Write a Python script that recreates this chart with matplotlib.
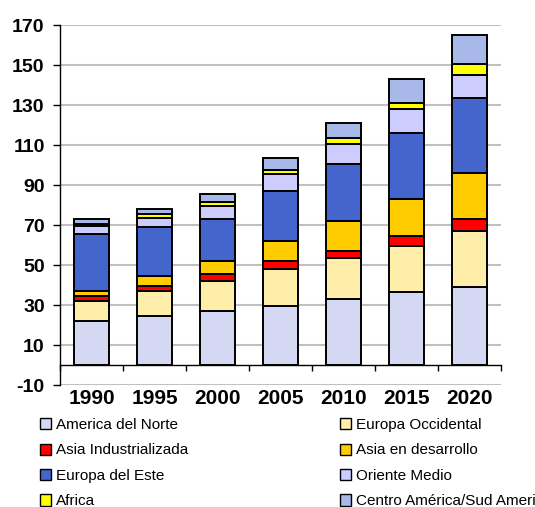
import matplotlib
matplotlib.use("Agg")
import matplotlib.pyplot as plt
import numpy as np
from matplotlib.patches import Patch

plt.rcParams['font.family'] = ['Liberation Sans', 'DejaVu Sans']
plt.rcParams['axes.unicode_minus'] = False

years = ['1990', '1995', '2000', '2005', '2010', '2015', '2020']
regions = ['America del Norte', 'Europa Occidental', 'Asia Industrializada',
           'Asia en desarrollo', 'Europa del Este', 'Oriente Medio',
           'Africa', 'Centro América/Sud America']
america_norte = [22.2, 24.7, 27.2, 29.7, 33.0, 36.3, 39.0]
europa_occ = [10.0, 12.5, 15.0, 18.3, 20.7, 23.2, 28.0]
asia_ind = [2.3, 2.5, 3.1, 4.2, 3.5, 5.2, 5.8]
asia_des = [2.7, 4.8, 6.7, 9.8, 14.8, 18.1, 23.4]
europa_este = [28.3, 24.3, 21.0, 24.8, 28.3, 33.4, 37.3]
oriente_medio = [3.8, 4.9, 6.5, 8.7, 10.0, 11.6, 11.5]
africa = [1.0, 1.6, 2.2, 2.2, 3.3, 3.4, 5.3]
centro_sud = [2.7, 2.5, 3.8, 6.0, 7.5, 11.6, 14.9]
series = [america_norte, europa_occ, asia_ind, asia_des, europa_este,
          oriente_medio, africa, centro_sud]
colors = ['#D4D8F2', '#FFEEAA', '#FF0000', '#FFCC00', '#4466CC',
          '#CCCCFF', '#FFFF00', '#A8B8E8']

fig = plt.figure(figsize=(5.35, 5.07), dpi=100)
ax = fig.add_axes([60/535, 1-385/507, 441/535, 360/507])

x = np.arange(len(years))
bottom = np.zeros(len(years))
handles = []
for vals, col, lab in zip(series, colors, regions):
    ax.bar(x, vals, width=0.57, bottom=bottom, color=col, edgecolor='black',
           linewidth=1.4, zorder=3)
    bottom += np.array(vals)
    handles.append(Patch(facecolor=col, edgecolor='black', linewidth=1.0, label=lab))

ax.set_ylim(-10, 170)
ax.set_xlim(-0.5, len(years) - 0.5)
ax.set_yticks(np.arange(-10, 171, 20))
ax.yaxis.grid(True, color='#C0C0C0', linewidth=1.5, zorder=0)
ax.set_axisbelow(True)

for s in ['top', 'right']:
    ax.spines[s].set_visible(False)
ax.spines['left'].set_color('black')
ax.spines['left'].set_linewidth(1.0)
ax.spines['bottom'].set_position(('data', 0))
ax.spines['bottom'].set_color('black')
ax.spines['bottom'].set_linewidth(1.0)
ax.spines['bottom'].set_zorder(4)

ax.set_xticks(x)
ax.set_xticklabels(years, fontsize=15, fontweight='bold')
ax.tick_params(axis='x', which='major', length=0, pad=17)
ax.set_xticks(np.arange(-0.5, len(years), 1.0), minor=True)
ax.tick_params(axis='x', which='minor', length=4, width=1.0, direction='out')
ax.tick_params(axis='y', labelsize=14, length=5, width=1.0, pad=6)
for lbl in ax.get_yticklabels():
    lbl.set_fontweight('bold')

col1 = [handles[i] for i in (0, 2, 4, 6)]
col2 = [handles[i] for i in (1, 3, 5, 7)]
kw = dict(loc='upper left', frameon=False, fontsize=11, handlelength=0.75,
          handleheight=0.75, handletextpad=0.3, borderpad=0, borderaxespad=0,
          labelspacing=0.75)
leg1 = fig.legend(handles=col1, bbox_to_anchor=(40/535, 1-418/507), **kw)
leg2 = fig.legend(handles=col2, bbox_to_anchor=(340/535, 1-418/507), **kw)

fig.savefig('out.png', dpi=100)
